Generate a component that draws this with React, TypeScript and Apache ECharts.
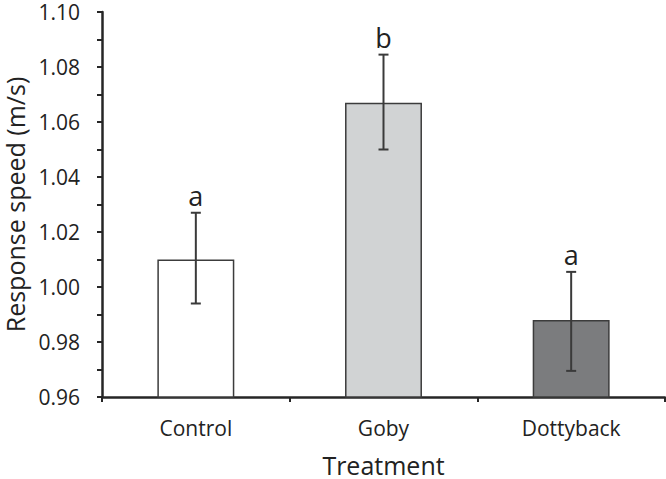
import React, { useEffect, useRef } from "react";
import * as echarts from "echarts";

const categories = ["Control", "Goby", "Dottyback"];
const means = [1.01, 1.067, 0.988];
const errLow = [0.994, 1.05, 0.9695];
const errHigh = [1.027, 1.0845, 1.0055];
const letters = ["a", "b", "a"];
const barColors = ["#ffffff", "#d1d3d4", "#7b7c7e"];

const FONT = "'Open Sans', 'Noto Sans', sans-serif";
const TXT = "#222222";

export default function App() {
  const ref = useRef<HTMLDivElement>(null);
  useEffect(() => {
    if (!ref.current) return;
    const chart = echarts.init(ref.current, undefined, { renderer: "svg" });
    const errData = categories.map((_, i) => [i, errLow[i], errHigh[i], letters[i]]);
    chart.setOption({
      animation: false,
      backgroundColor: "#ffffff",
      grid: {
        left: 102,
        right: 1,
        top: 12,
        bottom: 82,
        containLabel: false,
        outerBoundsMode: "none",
      },
      xAxis: {
        type: "category",
        data: categories,
        boundaryGap: true,
        name: "Treatment",
        nameLocation: "middle",
        nameGap: 55,
        nameTextStyle: { fontFamily: FONT, fontSize: 25, color: TXT },
        axisLine: { lineStyle: { color: "#262626", width: 2.5 } },
        axisTick: { show: true, length: 5, lineStyle: { color: "#262626", width: 2 } },
        axisLabel: { fontFamily: FONT, fontSize: 21, color: TXT, margin: 20 },
        splitLine: { show: false },
      },
      yAxis: {
        type: "value",
        min: 0.96,
        max: 1.1,
        interval: 0.02,
        name: "Response speed (m/s)",
        nameLocation: "middle",
        nameGap: 72,
        nameTextStyle: { fontFamily: FONT, fontSize: 25, color: TXT },
        axisLine: { show: true, lineStyle: { color: "#262626", width: 2.5 } },
        axisTick: { show: true, length: 5, lineStyle: { color: "#262626", width: 2 } },
        minorTick: { show: true, splitNumber: 2, length: 5, lineStyle: { color: "#262626", width: 2 } },
        axisLabel: {
          fontFamily: FONT,
          fontSize: 21,
          color: TXT,
          margin: 22,
          formatter: (v: number) => v.toFixed(2),
        },
        splitLine: { show: false },
      },
      series: [
        {
          type: "bar",
          data: means.map((m, i) => ({
            value: m,
            itemStyle: { color: barColors[i], borderColor: "#3c3c3c", borderWidth: 1.5 },
          })),
          barWidth: "41%",
          z: 2,
        },
        {
          type: "custom",
          data: errData,
          z: 3,
          renderItem: (params: any, api: any) => {
            const x = api.value(0);
            const lo = api.coord([x, api.value(1)]);
            const hi = api.coord([x, api.value(2)]);
            const cx = lo[0];
            const hw = 5;
            const style = { stroke: "#3a3a3a", lineWidth: 2 };
            const letter = letters[params.dataIndex];
            return {
              type: "group",
              children: [
                { type: "line", shape: { x1: cx, y1: hi[1], x2: cx, y2: lo[1] }, style },
                { type: "line", shape: { x1: cx - hw, y1: hi[1], x2: cx + hw, y2: hi[1] }, style },
                { type: "line", shape: { x1: cx - hw, y1: lo[1], x2: cx + hw, y2: lo[1] }, style },
                {
                  type: "text",
                  x: cx,
                  y: hi[1] - 4,
                  style: {
                    text: letter,
                    fontFamily: FONT,
                    fontSize: 27,
                    fill: TXT,
                    align: "center",
                    verticalAlign: "bottom",
                  },
                },
              ],
            };
          },
        },
      ],
    });
    return () => chart.dispose();
  }, []);
  return (
    <div
      ref={ref}
      style={{ position: "absolute", left: 0, top: 0, width: 666, height: 479 }}
    />
  );
}
